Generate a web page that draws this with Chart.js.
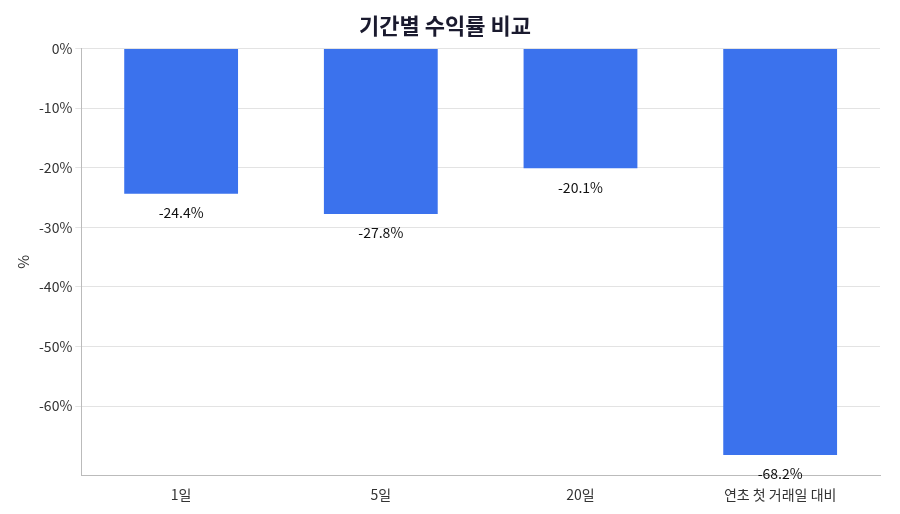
<!DOCTYPE html><html><head><meta charset="utf-8">
<script src="https://cdn.jsdelivr.net/npm/chart.js@4"></script>
<style>body{margin:0;background:#fff}#w{width:900px;height:514px}</style></head><body><div id="w"><canvas id="c"></canvas></div>
<script>
const categories=['1일','5일','20일','연초 첫 거래일 대비'];
const values=[-24.4,-27.8,-20.1,-68.2];
const F="'Noto Sans CJK KR','Noto Sans',sans-serif";
const labelPlugin={id:'lbl',afterDatasetsDraw(ch){const ctx=ch.ctx;const m=ch.getDatasetMeta(0);ctx.save();ctx.font='14px '+F;ctx.fillStyle='#111';ctx.textAlign='center';ctx.textBaseline='middle';
m.data.forEach((b,i)=>{ctx.fillText(values[i].toFixed(1)+'%',b.x,b.y+19);});ctx.restore();}};
new Chart(document.getElementById('c'),{type:'bar',data:{labels:categories,datasets:[{data:values,backgroundColor:'#3b72ed',barPercentage:0.57,categoryPercentage:1}]},
options:{responsive:true,maintainAspectRatio:false,animation:false,layout:{padding:{left:10,right:20,top:8,bottom:8}},
plugins:{legend:{display:false},tooltip:{enabled:false},title:{display:true,text:'기간별 수익률 비교',color:'#1a1a2e',font:{family:F,size:22,weight:'bold'},padding:{top:4,bottom:10}}},
scales:{x:{grid:{display:false},border:{color:'#bbb'},ticks:{color:'#333',font:{family:F,size:14}}},
y:{min:-71.6,max:0,grid:{color:'#e3e3e3',drawTicks:true,tickLength:6},border:{color:'#bbb',dash:[]},ticks:{stepSize:10,color:'#333',font:{family:F,size:14},callback:v=>v%10===0?v+'%':null},
title:{display:true,text:'%',color:'#333',font:{family:F,size:15}}}}},plugins:[labelPlugin]});
</script></body></html>
